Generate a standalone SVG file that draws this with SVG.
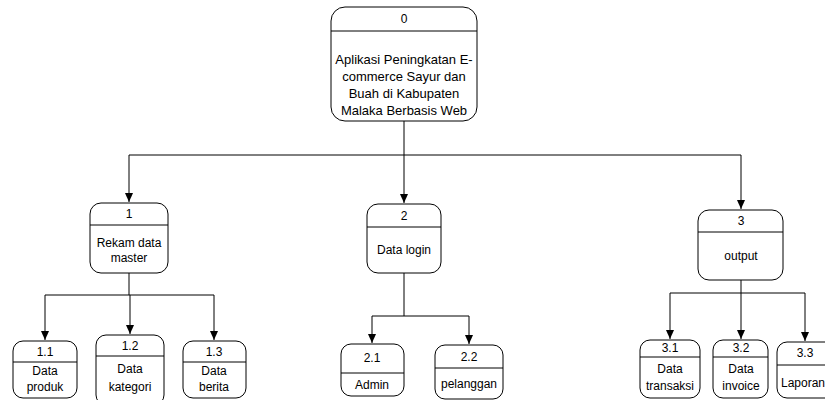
<svg xmlns="http://www.w3.org/2000/svg" width="825" height="400" viewBox="0 0 825 400">
<style>
.box{fill:#fff;stroke:#000;stroke-width:1}
.div{stroke:#000;stroke-width:1}
.t{font-family:"Liberation Sans",Arial,sans-serif;font-size:12px;fill:#000;text-anchor:middle}
.big{font-size:13px}
.c{fill:none;stroke:#000;stroke-width:1}
</style>
<defs>
<marker id="arr" markerWidth="10" markerHeight="10" refX="9" refY="5" orient="auto" markerUnits="userSpaceOnUse">
<path d="M0,1 L9,5 L0,9 Z" fill="#000"/>
</marker>
</defs>
<rect width="825" height="400" fill="#fff"/>
<g id="connectors">
<polyline class="c" points="404,121 404,155"/>
<polyline class="c" points="129,155 741,155"/>
<polyline class="c" points="129,155 129,202" marker-end="url(#arr)"/>
<polyline class="c" points="404,155 404,203" marker-end="url(#arr)"/>
<polyline class="c" points="741,155 741,209" marker-end="url(#arr)"/>
<polyline class="c" points="129,273 129,295"/>
<polyline class="c" points="45,295 214,295"/>
<polyline class="c" points="45,295 45,340" marker-end="url(#arr)"/>
<polyline class="c" points="130,295 130,334" marker-end="url(#arr)"/>
<polyline class="c" points="214,295 214,340" marker-end="url(#arr)"/>
<polyline class="c" points="404,273 404,316"/>
<polyline class="c" points="372,316 469,316"/>
<polyline class="c" points="372,316 372,343" marker-end="url(#arr)"/>
<polyline class="c" points="469,316 469,344" marker-end="url(#arr)"/>
<polyline class="c" points="741,280 741,293"/>
<polyline class="c" points="670,293 805,293"/>
<polyline class="c" points="670,293 670,339" marker-end="url(#arr)"/>
<polyline class="c" points="741,293 741,339" marker-end="url(#arr)"/>
<polyline class="c" points="805,293 805,341" marker-end="url(#arr)"/>
</g>
<g id="n0">
<rect class="box" x="331" y="7" width="146" height="114" rx="14"/>
<line class="div" x1="331" y1="31" x2="477" y2="31"/>
<text class="t" x="404" y="23">0</text>
<text class="t big" x="404" y="64">Aplikasi Peningkatan E-</text>
<text class="t big" x="404" y="81">commerce Sayur dan</text>
<text class="t big" x="404" y="98">Buah di Kabupaten</text>
<text class="t big" x="404" y="115">Malaka Berbasis Web</text>
</g>
<g id="n1">
<rect class="box" x="90" y="203" width="78" height="70" rx="11"/>
<line class="div" x1="90" y1="225" x2="168" y2="225"/>
<text class="t" x="129" y="218">1</text>
<text class="t" x="129" y="247">Rekam data</text>
<text class="t" x="129" y="262">master</text>
</g>
<g id="n2">
<rect class="box" x="367" y="204" width="74" height="69" rx="11"/>
<line class="div" x1="367" y1="227" x2="441" y2="227"/>
<text class="t" x="404" y="220">2</text>
<text class="t" x="404" y="254">Data login</text>
</g>
<g id="n3">
<rect class="box" x="698" y="210" width="85" height="70" rx="11"/>
<line class="div" x1="698" y1="232" x2="783" y2="232"/>
<text class="t" x="741" y="225">3</text>
<text class="t" x="741" y="260">output</text>
</g>
<g id="n1_1">
<rect class="box" x="13" y="341" width="64" height="57" rx="10"/>
<line class="div" x1="13" y1="362" x2="77" y2="362"/>
<text class="t" x="45" y="356">1.1</text>
<text class="t" x="45" y="375">Data</text>
<text class="t" x="45" y="391">produk</text>
</g>
<g id="n1_2">
<rect class="box" x="96" y="335" width="68" height="70" rx="10"/>
<line class="div" x1="96" y1="356" x2="164" y2="356"/>
<text class="t" x="130" y="350">1.2</text>
<text class="t" x="130" y="373">Data</text>
<text class="t" x="130" y="391">kategori</text>
</g>
<g id="n1_3">
<rect class="box" x="183" y="341" width="63" height="57" rx="10"/>
<line class="div" x1="183" y1="362" x2="246" y2="362"/>
<text class="t" x="214" y="356">1.3</text>
<text class="t" x="214" y="375">Data</text>
<text class="t" x="214" y="391">berita</text>
</g>
<g id="n2_1">
<rect class="box" x="341" y="344" width="63" height="52" rx="10"/>
<line class="div" x1="341" y1="373" x2="404" y2="373"/>
<text class="t" x="372" y="362">2.1</text>
<text class="t" x="372" y="389">Admin</text>
</g>
<g id="n2_2">
<rect class="box" x="435" y="345" width="68" height="54" rx="10"/>
<line class="div" x1="435" y1="368" x2="503" y2="368"/>
<text class="t" x="469" y="361">2.2</text>
<text class="t" x="469" y="388">pelanggan</text>
</g>
<g id="n3_1">
<rect class="box" x="640" y="340" width="60" height="58" rx="10"/>
<line class="div" x1="640" y1="357" x2="700" y2="357"/>
<text class="t" x="670" y="352">3.1</text>
<text class="t" x="670" y="373">Data</text>
<text class="t" x="670" y="390">transaksi</text>
</g>
<g id="n3_2">
<rect class="box" x="713" y="340" width="55" height="58" rx="10"/>
<line class="div" x1="713" y1="357" x2="768" y2="357"/>
<text class="t" x="741" y="352">3.2</text>
<text class="t" x="741" y="373">Data</text>
<text class="t" x="741" y="390">invoice</text>
</g>
<g id="n3_3">
<rect class="box" x="777" y="342" width="60" height="56" rx="10"/>
<line class="div" x1="777" y1="365" x2="837" y2="365"/>
<text class="t" x="805" y="357">3.3</text>
<text class="t" x="803" y="387">Laporan</text>
</g>
</svg>
